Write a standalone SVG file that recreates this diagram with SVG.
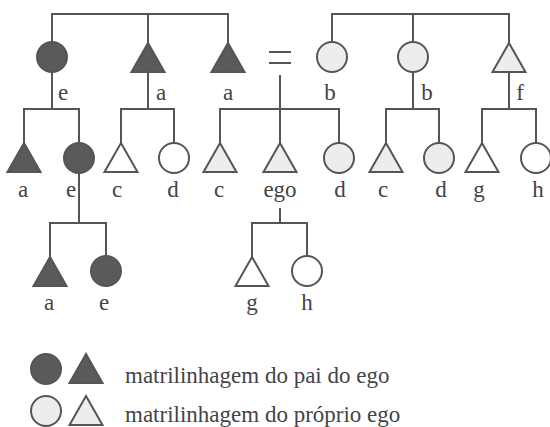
<svg xmlns="http://www.w3.org/2000/svg" width="550" height="427" viewBox="0 0 550 427">
  <style>
    .ln { fill: none; stroke: #555; stroke-width: 2; }
    .shape { stroke: #555; stroke-width: 2; }
    .dark { fill: #5a5a5a; }
    .light { fill: #ededed; }
    .open { fill: #fff; }
    text { font-family: "Liberation Serif", "Times New Roman", serif; font-size: 23px; fill: #444; text-anchor: middle; }
    .legend { text-anchor: start; }
  </style>
  <defs>
    <path id="tri" d="M0,0 L16.5,29 L-16.5,29 Z"/>
  </defs>
  <rect width="550" height="427" fill="#fff"/>

  <!-- connectors -->
  <g id="connectors" class="ln">
    <!-- father's sibling set -->
    <path d="M52,42 V14 H228 V43 M148,14 V43"/>
    <path d="M52,72 V109 M24,143 V109 H79 V143"/>
    <path d="M148,72 V109 M121,143 V109 H174 V143"/>
    <!-- marriage and ego's siblings -->
    <path d="M269,52 H291 M269,63 H291"/>
    <path d="M280,75 V143 M220,143 V109 H339 V143"/>
    <!-- mother's sibling set -->
    <path d="M332,42 V14 H509 V43 M413,14 V42"/>
    <path d="M413,72 V109 M386,143 V109 H439 V143"/>
    <path d="M509,72 V109 M482,143 V109 H536 V143"/>
    <!-- third generation -->
    <path d="M79,173 V223 M50,257 V223 H106 V256"/>
    <path d="M280,208 V223 M252,257 V223 H307 V256"/>
  </g>

  <!-- first generation -->
  <g id="n-e1"><circle class="shape dark" cx="52" cy="57" r="15"/><text x="63" y="100">e</text></g>
  <g id="n-a1"><use href="#tri" x="148" y="43" class="shape dark"/><text x="161" y="100">a</text></g>
  <g id="n-a2"><use href="#tri" x="228" y="43" class="shape dark"/><text x="228" y="100">a</text></g>
  <g id="n-b1"><circle class="shape light" cx="332" cy="57" r="15"/><text x="330" y="100">b</text></g>
  <g id="n-b2"><circle class="shape light" cx="413" cy="57" r="15"/><text x="427" y="100">b</text></g>
  <g id="n-f"><use href="#tri" x="509" y="43" class="shape light"/><text x="520" y="100">f</text></g>

  <!-- second generation -->
  <g id="n-a3"><use href="#tri" x="24" y="143" class="shape dark"/><text x="23" y="197">a</text></g>
  <g id="n-e2"><circle class="shape dark" cx="79" cy="158" r="15"/><text x="71" y="197">e</text></g>
  <g id="n-c1"><use href="#tri" x="121" y="143" class="shape open"/><text x="117" y="197">c</text></g>
  <g id="n-d1"><circle class="shape open" cx="174" cy="158" r="15"/><text x="173" y="197">d</text></g>
  <g id="n-c2"><use href="#tri" x="220" y="143" class="shape light"/><text x="219" y="197">c</text></g>
  <g id="n-ego"><use href="#tri" x="280" y="143" class="shape light"/><text x="280" y="197">ego</text></g>
  <g id="n-d2"><circle class="shape light" cx="339" cy="158" r="15"/><text x="340" y="197">d</text></g>
  <g id="n-c3"><use href="#tri" x="386" y="143" class="shape light"/><text x="383" y="197">c</text></g>
  <g id="n-d3"><circle class="shape light" cx="439" cy="158" r="15"/><text x="441" y="197">d</text></g>
  <g id="n-g1"><use href="#tri" x="482" y="143" class="shape open"/><text x="479" y="197">g</text></g>
  <g id="n-h1"><circle class="shape open" cx="536" cy="158" r="15"/><text x="538" y="197">h</text></g>

  <!-- third generation -->
  <g id="n-a4"><use href="#tri" x="50" y="257" class="shape dark"/><text x="49" y="310">a</text></g>
  <g id="n-e3"><circle class="shape dark" cx="106" cy="271" r="15"/><text x="104" y="310">e</text></g>
  <g id="n-g2"><use href="#tri" x="252" y="257" class="shape open"/><text x="252" y="310">g</text></g>
  <g id="n-h2"><circle class="shape open" cx="307" cy="271" r="15"/><text x="307" y="310">h</text></g>

  <!-- legend -->
  <g id="legend-father">
    <circle class="shape dark" cx="46" cy="369" r="15"/>
    <use href="#tri" x="86" y="354" class="shape dark"/>
    <text class="legend" x="125" y="383">matrilinhagem do pai do ego</text>
  </g>
  <g id="legend-ego">
    <circle class="shape light" cx="46" cy="411" r="15"/>
    <use href="#tri" x="86" y="396" class="shape light"/>
    <text class="legend" x="125" y="422">matrilinhagem do próprio ego</text>
  </g>
</svg>
